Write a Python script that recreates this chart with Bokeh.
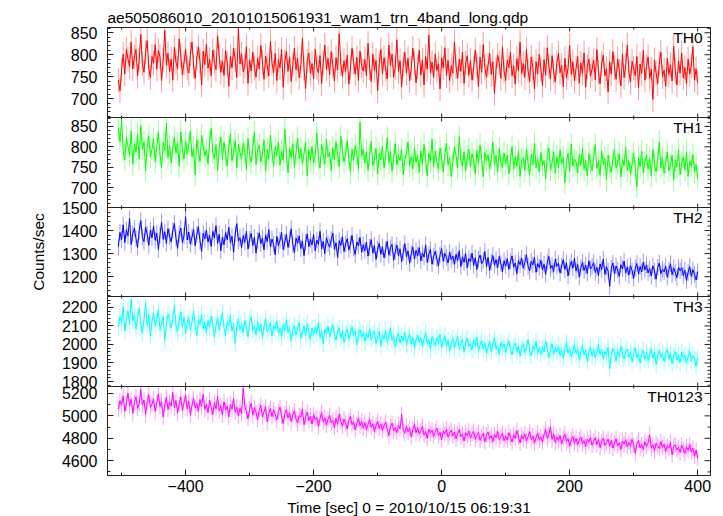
import numpy as np
from bokeh.plotting import figure
from bokeh.models import Range1d, LinearAxis, FixedTicker, Label, CustomJSTickFormatter, ColumnDataSource, Grid
from bokeh.layouts import column
from bokeh.embed import file_html
from bokeh.resources import INLINE

# ---- data: counts/sec in 2.5 s bins, first bin at t = -505 s ----
t_start = -505.0
bin_sec = 2.5

th0 = [742, 718, 765, 801, 756, 812, 790, 773, 829, 768, 795,
       812, 751, 788, 846, 779, 760, 805, 832, 770, 748, 796,
       781, 823, 767, 810, 795, 741, 788, 855, 776, 803, 762,
       790, 742, 817, 783, 768, 836, 799, 754, 781, 812, 770,
       758, 801, 829, 774, 746, 792, 818, 785, 731, 808, 777,
       824, 769, 790, 752, 811, 783, 766, 843, 797, 760, 786,
       753, 809, 781, 728, 796, 770, 815, 788, 748, 860, 779,
       802, 761, 774, 819, 735, 788, 763, 806, 771, 749, 792,
       768, 821, 783, 744, 797, 776, 752, 830, 781, 759, 803,
       741, 789, 770, 812, 726, 784, 808, 762, 795, 739, 777,
       815, 766, 791, 748, 775, 837, 769, 723, 786, 804, 758,
       780, 745, 812, 771, 759, 798, 734, 783, 822, 767, 791,
       754, 807, 776, 740, 793, 765, 848, 779, 751, 786, 762,
       799, 733, 770, 815, 782, 756, 794, 741, 808, 775, 763,
       789, 752, 826, 770, 739, 801, 764, 787, 718, 780, 812,
       757, 793, 768, 745, 822, 776, 801, 749, 771, 834, 762,
       786, 727, 779, 805, 758, 792, 741, 769, 815, 780, 736,
       772, 810, 754, 788, 731, 796, 767, 845, 759, 783, 748,
       801, 764, 779, 722, 793, 770, 816, 752, 787, 741, 775,
       758, 829, 773, 746, 790, 762, 806, 735, 781, 798, 753,
       787, 742, 769, 811, 778, 727, 795, 760, 823, 771, 749,
       776, 803, 755, 784, 712, 767, 799, 781, 746, 818, 763,
       741, 788, 770, 806, 752, 775, 733, 791, 764, 829, 757,
       780, 748, 812, 763, 739, 795, 771, 722, 784, 756, 801,
       767, 730, 789, 753, 816, 774, 745, 798, 761, 738, 782,
       803, 759, 776, 727, 792, 748, 770, 821, 755, 784, 740,
       769, 796, 735, 781, 758, 804, 726, 773, 790, 751, 767,
       788, 743, 812, 760, 734, 779, 799, 752, 768, 715, 783,
       756, 807, 771, 744, 790, 763, 729, 801, 748, 775, 822,
       761, 738, 785, 769, 752, 796, 724, 779, 757, 810, 742,
       773, 795, 746, 767, 698, 788, 759, 734, 781, 806, 750,
       765, 728, 792, 755, 777, 740, 819, 763, 731, 786, 758,
       804, 747, 771, 733, 790, 756, 775, 818, 742, 768, 736]

th1 = [845, 812, 866, 791, 768, 823, 801, 779, 840, 757, 808,
       786, 831, 770, 852, 795, 812, 741, 803, 826, 775, 794,
       819, 763, 800, 837, 782, 748, 811, 790, 858, 772, 805,
       761, 798, 823, 784, 809, 752, 836, 794, 770, 815, 783,
       806, 839, 775, 797, 731, 818, 789, 764, 828, 801, 778,
       792, 758, 813, 845, 786, 771, 804, 742, 797, 824, 769,
       811, 780, 753, 799, 832, 766, 790, 815, 748, 806, 785,
       770, 809, 788, 744, 821, 779, 762, 798, 836, 757, 791,
       805, 763, 782, 817, 740, 794, 771, 829, 786, 752, 800,
       778, 812, 755, 790, 767, 843, 781, 736, 797, 774, 808,
       749, 786, 822, 771, 795, 758, 784, 811, 729, 792, 766,
       801, 760, 779, 834, 770, 748, 806, 783, 757, 819, 775,
       787, 742, 798, 768, 812, 779, 751, 826, 790, 763, 781,
       815, 772, 738, 794, 766, 803, 782, 745, 861, 776, 795,
       760, 788, 742, 779, 813, 754, 770, 796, 733, 784, 768,
       801, 749, 775, 822, 761, 789, 740, 772, 808, 756, 779,
       766, 793, 731, 769, 784, 812, 753, 776, 745, 798, 762,
       778, 737, 790, 757, 806, 770, 728, 785, 763, 819, 751,
       789, 764, 745, 797, 772, 738, 781, 809, 756, 774, 727,
       763, 800, 779, 748, 825, 767, 752, 788, 741, 776, 794,
       750, 783, 768, 733, 791, 759, 804, 772, 726, 786, 765,
       781, 746, 770, 812, 757, 779, 739, 796, 762, 748, 785,
       758, 779, 734, 767, 801, 745, 776, 752, 790, 727, 769,
       773, 742, 795, 760, 731, 782, 756, 809, 748, 771, 738,
       786, 754, 766, 721, 779, 797, 743, 761, 788, 735, 776,
       749, 792, 758, 774, 712, 765, 784, 739, 807, 752, 770,
       763, 736, 781, 755, 796, 744, 768, 729, 783, 761, 741,
       777, 805, 747, 764, 730, 790, 756, 772, 719, 779, 752,
       737, 769, 794, 748, 761, 783, 726, 770, 754, 799, 742,
       766, 733, 758, 785, 747, 702, 773, 751, 789, 736, 762,
       780, 745, 771, 728, 794, 757, 739, 766, 812, 748, 774,
       735, 762, 787, 741, 755, 779, 718, 768, 750, 793, 732,
       759, 776, 744, 788, 727, 765, 752, 781, 738, 757, 722]

th2 = [1330, 1392, 1361, 1425, 1348, 1403, 1377, 1452, 1339, 1386, 1410,
       1365, 1327, 1398, 1443, 1371, 1352, 1415, 1384, 1336, 1401, 1369,
       1420, 1357, 1389, 1318, 1380, 1437, 1362, 1395, 1344, 1408, 1374,
       1351, 1399, 1432, 1366, 1323, 1386, 1411, 1348, 1377, 1460, 1359,
       1393, 1341, 1372, 1405, 1334, 1382, 1417, 1356, 1309, 1388, 1363,
       1402, 1350, 1379, 1331, 1396, 1368, 1421, 1345, 1384, 1312, 1372,
       1338, 1391, 1360, 1414, 1347, 1375, 1306, 1385, 1430, 1354, 1369,
       1326, 1378, 1349, 1397, 1320, 1362, 1388, 1335, 1371, 1302, 1357,
       1390, 1343, 1368, 1316, 1381, 1352, 1404, 1329, 1363, 1340, 1295,
       1375, 1334, 1358, 1392, 1318, 1350, 1384, 1327, 1361, 1408, 1339,
       1304, 1367, 1345, 1376, 1322, 1355, 1291, 1348, 1386, 1330, 1362,
       1337, 1383, 1312, 1359, 1340, 1397, 1321, 1353, 1300, 1369, 1344,
       1328, 1361, 1389, 1319, 1347, 1283, 1356, 1335, 1374, 1309, 1342,
       1365, 1316, 1340, 1379, 1324, 1296, 1351, 1333, 1370, 1306, 1338,
       1312, 1350, 1289, 1327, 1361, 1302, 1335, 1275, 1319, 1345, 1297,
       1330, 1282, 1316, 1354, 1293, 1325, 1340, 1271, 1308, 1337, 1290,
       1321, 1265, 1305, 1343, 1287, 1312, 1258, 1300, 1329, 1276, 1314,
       1291, 1326, 1269, 1303, 1285, 1338, 1262, 1297, 1318, 1254, 1288,
       1310, 1278, 1246, 1295, 1322, 1267, 1301, 1283, 1259, 1306, 1274,
       1289, 1253, 1297, 1270, 1313, 1244, 1286, 1262, 1300, 1238, 1279,
       1265, 1302, 1249, 1282, 1231, 1275, 1294, 1256, 1270, 1309, 1243,
       1284, 1227, 1263, 1292, 1250, 1274, 1239, 1288, 1258, 1221, 1269,
       1246, 1278, 1232, 1266, 1290, 1241, 1259, 1213, 1270, 1252, 1281,
       1236, 1262, 1295, 1244, 1225, 1268, 1251, 1283, 1219, 1257, 1240,
       1271, 1229, 1254, 1210, 1263, 1288, 1235, 1249, 1222, 1276, 1245,
       1258, 1216, 1247, 1274, 1231, 1260, 1203, 1242, 1266, 1237, 1280,
       1224, 1253, 1198, 1239, 1262, 1227, 1250, 1214, 1269, 1233, 1245,
       1261, 1218, 1240, 1205, 1255, 1231, 1276, 1210, 1243, 1225, 1158,
       1236, 1259, 1212, 1246, 1228, 1201, 1252, 1234, 1268, 1215, 1242,
       1207, 1248, 1226, 1192, 1238, 1257, 1211, 1244, 1220, 1263, 1229,
       1251, 1216, 1235, 1203, 1247, 1224, 1189, 1240, 1259, 1213, 1232,
       1221, 1245, 1198, 1230, 1256, 1209, 1238, 1217, 1195, 1241, 1226,
       1239, 1205, 1228, 1183, 1219, 1244, 1201, 1230, 1210, 1186, 1222]

th3 = [2095, 2150, 2118, 2204, 2072, 2139, 2181, 2106, 2245, 2128, 2160,
       2083, 2142, 2197, 2115, 2060, 2133, 2226, 2101, 2158, 2044, 2124,
       2170, 2097, 2136, 2188, 2079, 2113, 2152, 2021, 2109, 2165, 2131,
       2088, 2140, 2212, 2103, 2067, 2127, 2175, 2094, 2148, 2058, 2117,
       2144, 2076, 2119, 2182, 2098, 2050, 2136, 2107, 2163, 2085, 2121,
       2061, 2129, 2093, 2153, 2111, 2038, 2104, 2146, 2080, 2119, 2172,
       2091, 2047, 2122, 2100, 2159, 2073, 2114, 2006, 2096, 2137, 2081,
       2108, 2065, 2130, 2089, 2042, 2116, 2150, 2077, 2099, 2055, 2124,
       2071, 2112, 2034, 2095, 2141, 2068, 2087, 2119, 2046, 2103, 2082,
       2127, 2059, 2090, 2040, 2106, 2075, 2134, 2063, 2092, 2018, 2079,
       2101, 2052, 2085, 2117, 2033, 2070, 2098, 2045, 2113, 2066, 2026,
       2088, 2049, 2094, 2062, 2121, 2037, 2075, 2004, 2081, 2057, 2099,
       2041, 2078, 2107, 2053, 2023, 2069, 2090, 2035, 2072, 2011, 2058,
       2084, 2029, 2063, 2096, 2047, 2074, 1998, 2055, 2080, 2039, 2066,
       2017, 2061, 2036, 2087, 2025, 2050, 2073, 2006, 2044, 2070, 1992,
       2053, 2028, 2076, 2014, 2041, 2091, 2022, 2048, 1985, 2035, 2060,
       2009, 2045, 2021, 2067, 1996, 2032, 2058, 2003, 2038, 1979, 2026,
       2051, 2012, 2039, 1988, 2030, 2064, 2001, 2027, 1972, 2043, 2015,
       1994, 2036, 2008, 2055, 1983, 2019, 2047, 1990, 2024, 1966, 2010,
       2033, 1981, 2016, 2042, 1975, 2005, 2029, 1958, 2013, 2037, 1987,
       2004, 1969, 2025, 1992, 2040, 1963, 1998, 2021, 1977, 2009, 1950,
       1985, 2018, 1961, 2000, 2034, 1973, 1995, 1946, 2012, 1980, 2003,
       1957, 1991, 2022, 1968, 1943, 1989, 2007, 1962, 1996, 1938, 1978,
       2001, 1955, 1984, 2027, 1965, 1937, 1993, 1971, 2015, 1952, 1982,
       1947, 1986, 1960, 2019, 1974, 1929, 1967, 2004, 1949, 1983, 1958,
       1992, 1940, 1971, 1926, 1979, 2010, 1953, 1977, 1933, 1964, 1998,
       1951, 1976, 1919, 1960, 1994, 1943, 1968, 1908, 1955, 1987, 1936,
       1972, 1928, 1959, 1999, 1945, 1974, 1921, 1962, 1939, 1985, 1869,
       1940, 1979, 1952, 1913, 1966, 1932, 1990, 1947, 1923, 1958, 1976,
       1931, 1961, 1906, 1949, 1983, 1927, 1953, 1900, 1944, 1970, 1918,
       1955, 1915, 1942, 1978, 1924, 1960, 1891, 1937, 1968, 1929, 1950,
       1909, 1946, 1975, 1920, 1952, 1895, 1938, 1963, 1914, 1944, 1901,
       1958, 1926, 1943, 1897, 1935, 1966, 1910, 1941, 1919, 1882, 1933]

th0123 = [5060, 5135, 5092, 5178, 5041, 5110, 5203, 5087, 5149, 5022, 5120,
          5171, 5066, 5108, 5235, 5094, 5142, 5013, 5127, 5188, 5075, 5103,
          5152, 5039, 5116, 5196, 5081, 5132, 4989, 5098, 5164, 5057, 5124,
          5086, 5210, 5071, 5138, 5025, 5106, 5169, 5048, 5117, 5183, 5062,
          5131, 5004, 5095, 5158, 5070, 5112, 5037, 5146, 5083, 5192, 5058,
          5101, 5029, 5140, 5077, 5012, 5118, 5063, 5176, 5045, 5093, 5008,
          5126, 5051, 5087, 4990, 5104, 5060, 5155, 5033, 5079, 4998, 5069,
          5020, 5248, 5088, 5041, 4975, 5062, 5113, 5006, 5074, 5030, 4968,
          5049, 5097, 4989, 5035, 5081, 4946, 5023, 5066, 4992, 5054, 5012,
          4963, 5040, 5078, 4997, 4930, 5018, 5056, 4981, 5027, 4951, 5009,
          5045, 4972, 4936, 5003, 4986, 5061, 4921, 4990, 5034, 4958, 4998,
          4927, 5012, 4965, 4988, 4902, 4976, 5029, 4944, 4983, 4917, 4969,
          5004, 4938, 4961, 4895, 4979, 4926, 5016, 4950, 4909, 4971, 4936,
          4884, 4957, 4995, 4921, 4948, 4876, 4933, 4980, 4912, 4954, 4890,
          4941, 4873, 4922, 4966, 4898, 4930, 4860, 4915, 4952, 4887, 4928,
          4869, 4911, 4945, 4880, 4823, 4903, 4934, 4866, 4897, 4851, 4919,
          4882, 5015, 4871, 4846, 4908, 4858, 4893, 4812, 4876, 4924, 4848,
          4894, 4837, 4869, 4906, 4829, 4861, 4798, 4880, 4845, 4873, 4816,
          4859, 4891, 4824, 4852, 4787, 4866, 4838, 4881, 4810, 4847, 4872,
          4820, 4856, 4795, 4841, 4878, 4813, 4836, 4776, 4849, 4822, 4864,
          4801, 4839, 4863, 4790, 4826, 4852, 4781, 4817, 4845, 4768, 4830,
          4855, 4797, 4824, 4771, 4836, 4805, 4862, 4788, 4815, 4843, 4779,
          4821, 4784, 4850, 4808, 4766, 4833, 4798, 4870, 4812, 4759, 4827,
          4793, 4838, 4776, 4815, 4861, 4787, 4820, 4755, 4806, 4846, 4782,
          4814, 4768, 4835, 4881, 4797, 4829, 4905, 4790, 4840, 4761, 4811,
          4778, 4824, 4749, 4802, 4838, 4771, 4796, 4730, 4789, 4817, 4756,
          4799, 4742, 4786, 4812, 4751, 4780, 4725, 4794, 4765, 4808, 4738,
          4773, 4806, 4744, 4789, 4717, 4770, 4801, 4736, 4763, 4792, 4728,
          4782, 4712, 4757, 4795, 4733, 4760, 4701, 4775, 4748, 4786, 4722,
          4764, 4729, 4790, 4740, 4668, 4753, 4781, 4715, 4745, 4699, 4768,
          4726, 4759, 4830, 4710, 4742, 4688, 4755, 4731, 4706, 4770, 4719,
          4748, 4683, 4735, 4711, 4762, 4651, 4727, 4742, 4694, 4720, 4673,
          4739, 4702, 4665, 4724, 4690, 4745, 4678, 4712, 4640, 4695, 4620]

series = [th0, th1, th2, th3, th0123]
names = ["TH0", "TH1", "TH2", "TH3", "TH0123"]
errors = [28, 28, 36, 45, 70]
y_major = [[700, 750, 800, 850],
           [700, 750, 800, 850],
           [1200, 1300, 1400, 1500],
           [1800, 1900, 2000, 2100, 2200],
           [4600, 4800, 5000, 5200]]
y_minor_step = [10, 10, 20, 20, 100]
y_limits = [(657, 862), (651, 872), (1114, 1500), (1773, 2259), (4468, 5262)]
x_major = [-400, -200, 0, 200, 400]
x_minor = [-500, -300, -100, 100, 300]
colors = ["#ff0000", "#00ff00", "#0000ff", "#00ffff", "#ff00ff"]
title_text = "ae505086010_20101015061931_wam1_trn_4band_long.qdp"
x_label = "Time [sec] 0 = 2010/10/15 06:19:31"
y_label = "Counts/sec"

FONT = "Liberation Sans"
X0, X1 = -522, 420
xr = Range1d(X0, X1)
minus_fmt = CustomJSTickFormatter(code="return tick < 0 ? '\u2212' + Math.abs(tick) : tick.toString();")
INK = "#222222"

frame_heights = [90, 90, 89, 90, 89]
figs = []
n = len(series)
for i in range(n):
    vals, name, err, col = series[i], names[i], errors[i], colors[i]
    lo, hi = y_limits[i]
    first, last = i == 0, i == n - 1
    p = figure(frame_width=603, frame_height=frame_heights[i], x_range=xr,
               y_range=Range1d(lo, hi), output_backend="svg", toolbar_location=None,
               x_axis_location=None, y_axis_location=None,
               title=title_text if first else None,
               min_border_left=107, min_border_right=8,
               min_border_top=27 if first else 10,
               min_border_bottom=40 if last else 10,
               background_fill_color="white")
    p.border_fill_alpha = 1 if first else 0
    if first:
        p.title.align = "left"
        p.title.offset = 0
        p.title.standoff = 4
        p.title.text_font = FONT
        p.title.text_font_size = "15.5px"
        p.title.text_font_style = "normal"
        p.title.text_color = "black"
    else:
        p.margin = (-20, 0, 0, 0)
    for r in p.center:
        if isinstance(r, Grid):
            r.visible = False
    p.outline_line_color = INK
    p.outline_line_width = 1

    t = t_start + bin_sec * np.arange(len(vals))
    v = np.array(vals, dtype=float)
    src = ColumnDataSource(dict(t=t, v=v, lo=v - err, hi=v + err))
    p.segment(x0="t", y0="lo", x1="t", y1="hi", source=src, line_color=col,
              line_alpha=0.4, line_width=1)
    p.line(x="t", y="v", source=src, line_color=col, line_width=1)

    ymin = [m for m in np.arange(y_major[i][0] - 10 * y_minor_step[i], hi + 1, y_minor_step[i])
            if lo <= m <= hi and m not in y_major[i]]
    yt = FixedTicker(ticks=y_major[i], minor_ticks=ymin)

    left = LinearAxis(ticker=yt)
    left.major_tick_in = 6
    left.major_tick_out = 0
    left.minor_tick_in = 3
    left.minor_tick_out = 0
    left.axis_line_color = INK
    left.major_tick_line_color = INK
    left.minor_tick_line_color = INK
    left.major_label_text_font = FONT
    left.major_label_text_font_size = "16px"
    left.major_label_text_color = "black"
    left.major_label_standoff = 10
    if i == 2:
        left.axis_label = y_label
        left.axis_label_text_font = FONT
        left.axis_label_text_font_size = "15.5px"
        left.axis_label_text_font_style = "normal"
        left.axis_label_text_color = "black"
        left.axis_label_standoff = 12
    p.add_layout(left, "left")

    # tick marks on the right edge and on the top / bottom edges
    p.ray(x=[X1] * len(y_major[i]), y=y_major[i], length=6, length_units="screen",
          angle=np.pi, line_color=INK, line_width=1)
    p.ray(x=[X1] * len(ymin), y=ymin, length=3, length_units="screen",
          angle=np.pi, line_color=INK, line_width=1)
    p.ray(x=x_major, y=[hi] * len(x_major), length=4, length_units="screen",
          angle=-np.pi / 2, line_color=INK, line_width=1)
    p.ray(x=x_minor, y=[hi] * len(x_minor), length=2, length_units="screen",
          angle=-np.pi / 2, line_color=INK, line_width=1)

    if last:
        bottom = LinearAxis(ticker=FixedTicker(ticks=x_major, minor_ticks=x_minor),
                            formatter=minus_fmt)
        bottom.major_tick_in = 6
        bottom.major_tick_out = 0
        bottom.minor_tick_in = 3
        bottom.minor_tick_out = 0
        bottom.axis_line_color = INK
        bottom.major_tick_line_color = INK
        bottom.minor_tick_line_color = INK
        bottom.major_label_text_font = FONT
        bottom.major_label_text_font_size = "16px"
        bottom.major_label_text_color = "black"
        bottom.major_label_standoff = 4
        bottom.axis_label = x_label
        bottom.axis_label_text_font = FONT
        bottom.axis_label_text_font_size = "15.5px"
        bottom.axis_label_text_font_style = "normal"
        bottom.axis_label_text_color = "black"
        bottom.axis_label_standoff = 4
        p.add_layout(bottom, "below")
    else:
        p.ray(x=x_major, y=[lo] * len(x_major), length=4, length_units="screen",
              angle=np.pi / 2, line_color=INK, line_width=1)
        p.ray(x=x_minor, y=[lo] * len(x_minor), length=2, length_units="screen",
              angle=np.pi / 2, line_color=INK, line_width=1)

    p.add_layout(Label(x=X1, y=hi, x_offset=-8, y_offset=-1, text=name,
                       text_align="right", text_baseline="top",
                       text_font=FONT, text_font_size="15.5px", text_color="black"))
    figs.append(p)

layout = column(*figs, spacing=0)
open("out.html", "w").write(file_html(layout, INLINE))
